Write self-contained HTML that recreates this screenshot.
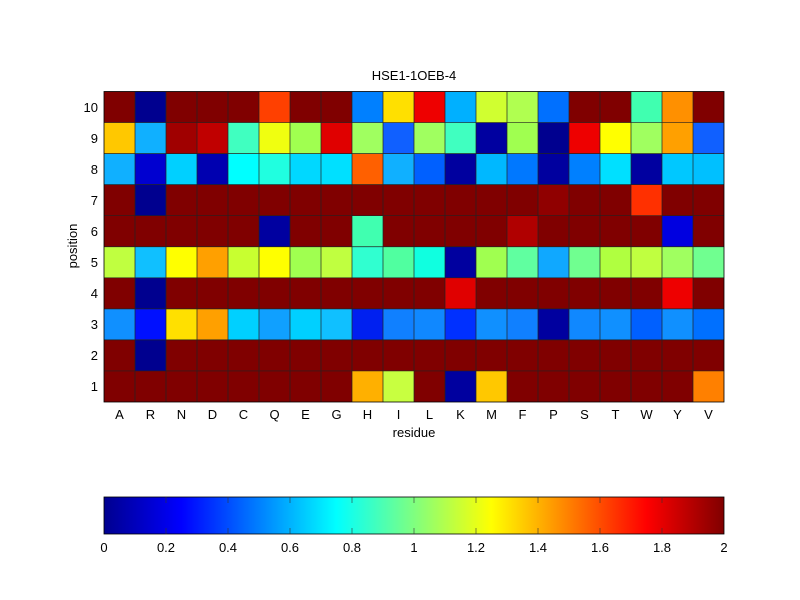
<!DOCTYPE html>
<html><head><meta charset="utf-8"><style>body{margin:0;background:#fff}svg{display:block}text{font-family:"Liberation Sans",sans-serif;font-size:13px;fill:#000}</style></head>
<body>
<svg width="800" height="600" xmlns="http://www.w3.org/2000/svg">
<defs><linearGradient id="jet" x1="0" x2="1" y1="0" y2="0">
<stop offset="0" stop-color="#00008f"/><stop offset="0.125" stop-color="#0000ff"/><stop offset="0.375" stop-color="#00ffff"/><stop offset="0.625" stop-color="#ffff00"/><stop offset="0.875" stop-color="#ff0000"/><stop offset="1" stop-color="#800000"/></linearGradient></defs>
<rect x="104" y="91.5" width="620" height="310.5" fill="#800000"/>
<!-- row 10 -->
<g transform="translate(0,91.5)">
<rect x="135" y="0" width="31" height="31.05" fill="#00008f"/>
<rect x="259" y="0" width="31" height="31.05" fill="#ff4000"/>
<rect x="352" y="0" width="31" height="31.05" fill="#0080ff"/>
<rect x="383" y="0" width="31" height="31.05" fill="#ffe000"/>
<rect x="414" y="0" width="31" height="31.05" fill="#ee0000"/>
<rect x="445" y="0" width="31" height="31.05" fill="#00b0ff"/>
<rect x="476" y="0" width="31" height="31.05" fill="#d0ff30"/>
<rect x="507" y="0" width="31" height="31.05" fill="#b0ff50"/>
<rect x="538" y="0" width="31" height="31.05" fill="#0070ff"/>
<rect x="631" y="0" width="31" height="31.05" fill="#40ffb0"/>
<rect x="662" y="0" width="31" height="31.05" fill="#ff9000"/>
</g>
<!-- row 9 -->
<g transform="translate(0,122.55)">
<rect x="104" y="0" width="31" height="31.05" fill="#ffc800"/>
<rect x="135" y="0" width="31" height="31.05" fill="#10b0ff"/>
<rect x="166" y="0" width="31" height="31.05" fill="#a00000"/>
<rect x="197" y="0" width="31" height="31.05" fill="#c00000"/>
<rect x="228" y="0" width="31" height="31.05" fill="#40ffc0"/>
<rect x="259" y="0" width="31" height="31.05" fill="#f0ff10"/>
<rect x="290" y="0" width="31" height="31.05" fill="#a0ff50"/>
<rect x="321" y="0" width="31" height="31.05" fill="#e00000"/>
<rect x="352" y="0" width="31" height="31.05" fill="#a0ff60"/>
<rect x="383" y="0" width="31" height="31.05" fill="#1060ff"/>
<rect x="414" y="0" width="31" height="31.05" fill="#a0ff60"/>
<rect x="445" y="0" width="31" height="31.05" fill="#40ffc0"/>
<rect x="476" y="0" width="31" height="31.05" fill="#0000a0"/>
<rect x="507" y="0" width="31" height="31.05" fill="#a0ff50"/>
<rect x="538" y="0" width="31" height="31.05" fill="#00008f"/>
<rect x="569" y="0" width="31" height="31.05" fill="#ee0000"/>
<rect x="600" y="0" width="31" height="31.05" fill="#ffff00"/>
<rect x="631" y="0" width="31" height="31.05" fill="#a0ff60"/>
<rect x="662" y="0" width="31" height="31.05" fill="#ffa000"/>
<rect x="693" y="0" width="31" height="31.05" fill="#1060ff"/>
</g>
<!-- row 8 -->
<g transform="translate(0,153.6)">
<rect x="104" y="0" width="31" height="31.05" fill="#10b0ff"/>
<rect x="135" y="0" width="31" height="31.05" fill="#0000d0"/>
<rect x="166" y="0" width="31" height="31.05" fill="#00d0ff"/>
<rect x="197" y="0" width="31" height="31.05" fill="#0000b0"/>
<rect x="228" y="0" width="31" height="31.05" fill="#00ffff"/>
<rect x="259" y="0" width="31" height="31.05" fill="#20ffe0"/>
<rect x="290" y="0" width="31" height="31.05" fill="#00d8ff"/>
<rect x="321" y="0" width="31" height="31.05" fill="#00e0ff"/>
<rect x="352" y="0" width="31" height="31.05" fill="#ff6000"/>
<rect x="383" y="0" width="31" height="31.05" fill="#10b0ff"/>
<rect x="414" y="0" width="31" height="31.05" fill="#0060ff"/>
<rect x="445" y="0" width="31" height="31.05" fill="#00009f"/>
<rect x="476" y="0" width="31" height="31.05" fill="#00b8ff"/>
<rect x="507" y="0" width="31" height="31.05" fill="#0078ff"/>
<rect x="538" y="0" width="31" height="31.05" fill="#00009f"/>
<rect x="569" y="0" width="31" height="31.05" fill="#0080ff"/>
<rect x="600" y="0" width="31" height="31.05" fill="#00e0ff"/>
<rect x="631" y="0" width="31" height="31.05" fill="#0000a0"/>
<rect x="662" y="0" width="31" height="31.05" fill="#00c8ff"/>
<rect x="693" y="0" width="31" height="31.05" fill="#00c0ff"/>
</g>
<!-- row 7 -->
<g transform="translate(0,184.65)">
<rect x="135" y="0" width="31" height="31.05" fill="#00008f"/>
<rect x="538" y="0" width="31" height="31.05" fill="#900000"/>
<rect x="631" y="0" width="31" height="31.05" fill="#ff3000"/>
</g>
<!-- row 6 -->
<g transform="translate(0,215.7)">
<rect x="259" y="0" width="31" height="31.05" fill="#0000a0"/>
<rect x="352" y="0" width="31" height="31.05" fill="#40ffb0"/>
<rect x="507" y="0" width="31" height="31.05" fill="#b00000"/>
<rect x="662" y="0" width="31" height="31.05" fill="#0000e0"/>
</g>
<!-- row 5 -->
<g transform="translate(0,246.75)">
<rect x="104" y="0" width="31" height="31.05" fill="#c0ff40"/>
<rect x="135" y="0" width="31" height="31.05" fill="#10c0ff"/>
<rect x="166" y="0" width="31" height="31.05" fill="#ffff00"/>
<rect x="197" y="0" width="31" height="31.05" fill="#ffa000"/>
<rect x="228" y="0" width="31" height="31.05" fill="#c8ff30"/>
<rect x="259" y="0" width="31" height="31.05" fill="#ffff00"/>
<rect x="290" y="0" width="31" height="31.05" fill="#a0ff50"/>
<rect x="321" y="0" width="31" height="31.05" fill="#c0ff40"/>
<rect x="352" y="0" width="31" height="31.05" fill="#30ffd0"/>
<rect x="383" y="0" width="31" height="31.05" fill="#50ffa0"/>
<rect x="414" y="0" width="31" height="31.05" fill="#10ffe0"/>
<rect x="445" y="0" width="31" height="31.05" fill="#00009f"/>
<rect x="476" y="0" width="31" height="31.05" fill="#a0ff50"/>
<rect x="507" y="0" width="31" height="31.05" fill="#60ffa0"/>
<rect x="538" y="0" width="31" height="31.05" fill="#10a8ff"/>
<rect x="569" y="0" width="31" height="31.05" fill="#70ff90"/>
<rect x="600" y="0" width="31" height="31.05" fill="#b0ff40"/>
<rect x="631" y="0" width="31" height="31.05" fill="#c0ff40"/>
<rect x="662" y="0" width="31" height="31.05" fill="#a0ff60"/>
<rect x="693" y="0" width="31" height="31.05" fill="#70ff90"/>
</g>
<!-- row 4 -->
<g transform="translate(0,277.8)">
<rect x="135" y="0" width="31" height="31.05" fill="#00008f"/>
<rect x="445" y="0" width="31" height="31.05" fill="#e00000"/>
<rect x="662" y="0" width="31" height="31.05" fill="#ee0000"/>
</g>
<!-- row 3 -->
<g transform="translate(0,308.85)">
<rect x="104" y="0" width="31" height="31.05" fill="#1090ff"/>
<rect x="135" y="0" width="31" height="31.05" fill="#0010ff"/>
<rect x="166" y="0" width="31" height="31.05" fill="#ffe000"/>
<rect x="197" y="0" width="31" height="31.05" fill="#ffa000"/>
<rect x="228" y="0" width="31" height="31.05" fill="#00d0ff"/>
<rect x="259" y="0" width="31" height="31.05" fill="#10a0ff"/>
<rect x="290" y="0" width="31" height="31.05" fill="#00d0ff"/>
<rect x="321" y="0" width="31" height="31.05" fill="#10c0ff"/>
<rect x="352" y="0" width="31" height="31.05" fill="#0020f0"/>
<rect x="383" y="0" width="31" height="31.05" fill="#1080ff"/>
<rect x="414" y="0" width="31" height="31.05" fill="#1088ff"/>
<rect x="445" y="0" width="31" height="31.05" fill="#0030ff"/>
<rect x="476" y="0" width="31" height="31.05" fill="#1090ff"/>
<rect x="507" y="0" width="31" height="31.05" fill="#1080ff"/>
<rect x="538" y="0" width="31" height="31.05" fill="#00009f"/>
<rect x="569" y="0" width="31" height="31.05" fill="#1088ff"/>
<rect x="600" y="0" width="31" height="31.05" fill="#1090ff"/>
<rect x="631" y="0" width="31" height="31.05" fill="#0060ff"/>
<rect x="662" y="0" width="31" height="31.05" fill="#1090ff"/>
<rect x="693" y="0" width="31" height="31.05" fill="#0070ff"/>
</g>
<!-- row 2 -->
<g transform="translate(0,339.9)">
<rect x="135" y="0" width="31" height="31.05" fill="#00008f"/>
</g>
<!-- row 1 -->
<g transform="translate(0,370.95)">
<rect x="352" y="0" width="31" height="31.05" fill="#ffb000"/>
<rect x="383" y="0" width="31" height="31.05" fill="#c8ff40"/>
<rect x="445" y="0" width="31" height="31.05" fill="#00009f"/>
<rect x="476" y="0" width="31" height="31.05" fill="#ffc800"/>
<rect x="693" y="0" width="31" height="31.05" fill="#ff8000"/>
</g>
<!-- grid lines -->
<g stroke="#222" stroke-width="0.7">
<line x1="135" x2="135" y1="91.5" y2="402"/><line x1="166" x2="166" y1="91.5" y2="402"/><line x1="197" x2="197" y1="91.5" y2="402"/><line x1="228" x2="228" y1="91.5" y2="402"/><line x1="259" x2="259" y1="91.5" y2="402"/><line x1="290" x2="290" y1="91.5" y2="402"/><line x1="321" x2="321" y1="91.5" y2="402"/><line x1="352" x2="352" y1="91.5" y2="402"/><line x1="383" x2="383" y1="91.5" y2="402"/><line x1="414" x2="414" y1="91.5" y2="402"/><line x1="445" x2="445" y1="91.5" y2="402"/><line x1="476" x2="476" y1="91.5" y2="402"/><line x1="507" x2="507" y1="91.5" y2="402"/><line x1="538" x2="538" y1="91.5" y2="402"/><line x1="569" x2="569" y1="91.5" y2="402"/><line x1="600" x2="600" y1="91.5" y2="402"/><line x1="631" x2="631" y1="91.5" y2="402"/><line x1="662" x2="662" y1="91.5" y2="402"/><line x1="693" x2="693" y1="91.5" y2="402"/>
<line x1="104" x2="724" y1="122.55" y2="122.55"/><line x1="104" x2="724" y1="153.6" y2="153.6"/><line x1="104" x2="724" y1="184.65" y2="184.65"/><line x1="104" x2="724" y1="215.7" y2="215.7"/><line x1="104" x2="724" y1="246.75" y2="246.75"/><line x1="104" x2="724" y1="277.8" y2="277.8"/><line x1="104" x2="724" y1="308.85" y2="308.85"/><line x1="104" x2="724" y1="339.9" y2="339.9"/><line x1="104" x2="724" y1="370.95" y2="370.95"/>
</g>
<rect x="104" y="91.5" width="620" height="310.5" fill="none" stroke="#000" stroke-width="0.8"/>
<g text-anchor="end">
<text x="98" y="112">10</text><text x="98" y="143">9</text><text x="98" y="174">8</text><text x="98" y="205">7</text><text x="98" y="236">6</text><text x="98" y="267">5</text><text x="98" y="298">4</text><text x="98" y="329">3</text><text x="98" y="360">2</text><text x="98" y="391">1</text>
</g>
<g text-anchor="middle">
<text x="119.5" y="419">A</text><text x="150.5" y="419">R</text><text x="181.5" y="419">N</text><text x="212.5" y="419">D</text><text x="243.5" y="419">C</text><text x="274.5" y="419">Q</text><text x="305.5" y="419">E</text><text x="336.5" y="419">G</text><text x="367.5" y="419">H</text><text x="398.5" y="419">I</text><text x="429.5" y="419">L</text><text x="460.5" y="419">K</text><text x="491.5" y="419">M</text><text x="522.5" y="419">F</text><text x="553.5" y="419">P</text><text x="584.5" y="419">S</text><text x="615.5" y="419">T</text><text x="646.5" y="419">W</text><text x="677.5" y="419">Y</text><text x="708.5" y="419">V</text>
</g>
<text x="414" y="80" text-anchor="middle">HSE1-1OEB-4</text>
<text transform="translate(77,246) rotate(-90)" text-anchor="middle">position</text>
<text x="414" y="437" text-anchor="middle">residue</text>
<rect x="104" y="497" width="620" height="37" fill="url(#jet)" stroke="#000" stroke-width="0.8"/>
<g stroke="#333" stroke-width="0.6">
<line x1="166" x2="166" y1="497" y2="503"/><line x1="228" x2="228" y1="497" y2="503"/><line x1="290" x2="290" y1="497" y2="503"/><line x1="352" x2="352" y1="497" y2="503"/><line x1="414" x2="414" y1="497" y2="503"/><line x1="476" x2="476" y1="497" y2="503"/><line x1="538" x2="538" y1="497" y2="503"/><line x1="600" x2="600" y1="497" y2="503"/><line x1="662" x2="662" y1="497" y2="503"/>
<line x1="166" x2="166" y1="528" y2="534"/><line x1="228" x2="228" y1="528" y2="534"/><line x1="290" x2="290" y1="528" y2="534"/><line x1="352" x2="352" y1="528" y2="534"/><line x1="414" x2="414" y1="528" y2="534"/><line x1="476" x2="476" y1="528" y2="534"/><line x1="538" x2="538" y1="528" y2="534"/><line x1="600" x2="600" y1="528" y2="534"/><line x1="662" x2="662" y1="528" y2="534"/>
</g>
<g text-anchor="middle">
<text x="104" y="552">0</text><text x="166" y="552">0.2</text><text x="228" y="552">0.4</text><text x="290" y="552">0.6</text><text x="352" y="552">0.8</text><text x="414" y="552">1</text><text x="476" y="552">1.2</text><text x="538" y="552">1.4</text><text x="600" y="552">1.6</text><text x="662" y="552">1.8</text><text x="724" y="552">2</text>
</g>
</svg>
</body></html>
